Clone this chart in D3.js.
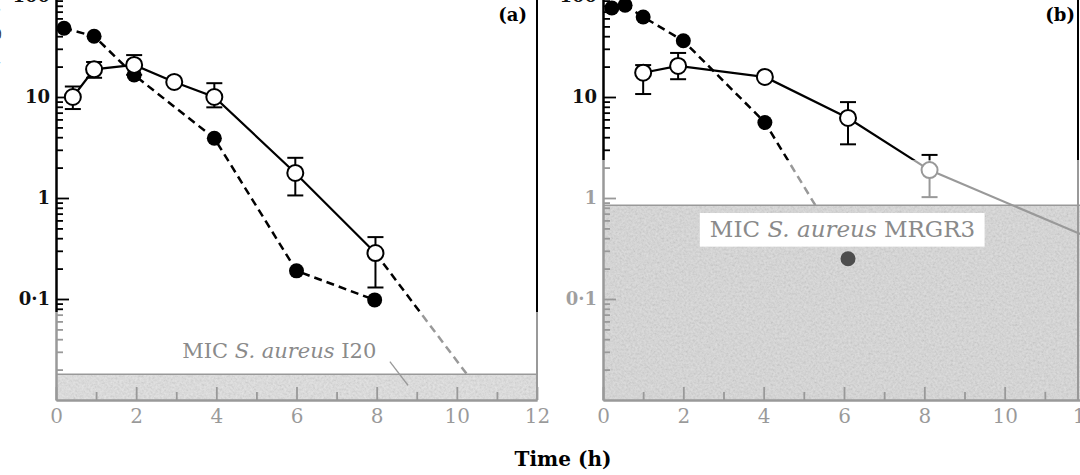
<!DOCTYPE html>
<meta charset="utf-8">
<style>
body { margin: 0; background: #fff; }
#fig { display: block; font-family: "DejaVu Serif", "Liberation Serif", serif; }
</style>
<svg id="fig" width="1080" height="475"></svg>
<script src="https://cdn.jsdelivr.net/npm/d3@7/dist/d3.min.js"></script>
<script>
// panel (a): S. aureus I20
var hoursFilledA = [0.2, 0.95, 1.95, 3.95, 6, 7.95];
var concFilledA  = [48, 40, 16.5, 3.9, 0.19, 0.098];
var hoursOpenA   = [0.42, 0.95, 1.95, 2.95, 3.95, 5.97, 7.97];
var concOpenA    = [10, 18.8, 20.8, 14.1, 10, 1.77, 0.285];
var loOpenA      = [7.6, 15.5, 16.6, null, 7.9, 1.06, 0.13];
var hiOpenA      = [12.7, 22.2, 26, null, 13.7, 2.5, 0.41];
var hoursExtA    = [7.97, 10.25];   // dashed extrapolation down to the MIC
var concExtA     = [0.285, 0.018];
var micA = 0.018;

// panel (b): S. aureus MRGR3
var hoursFilledB = [0.22, 0.55, 1, 2, 4.03, 6.1];
var concFilledB  = [76, 81, 62, 36, 5.6, 0.25];
var hoursOpenB   = [1, 1.87, 4.03, 6.1, 8.13];
var concOpenB    = [17.4, 20.3, 15.8, 6.2, 1.89];
var loOpenB      = [10.7, 15, null, 3.4, 1.02];
var hiOpenB      = [20.7, 27.3, null, 8.9, 2.67];
var hoursExtB    = [8.13, 12];      // solid extrapolation through the MIC
var concExtB     = [1.89, 0.42];
var micB = 0.85;

var hourTicks = [0, 2, 4, 6, 8, 10, 12];
var hourMinor = [1, 3, 5, 7, 9, 11];
var concTicks = [100, 10, 1, 0.1];
var concTickLabels = ["100", "10", "1", "0·1"];

var svg = d3.select("#fig");
var W = +svg.attr("width");

var y = d3.scaleLog().domain([0.01, 100]).range([400, -4]);
var xA = d3.scaleLinear().domain([0, 12]).range([56, 537]);
var xB = d3.scaleLinear().domain([0, 12]).range([603, 1085]);

// halftone grain for the shaded MIC areas
var grain = svg.append("defs").append("filter").attr("id", "grain")
    .attr("x", 0).attr("y", 0).attr("width", 1).attr("height", 1);
grain.append("feTurbulence").attr("type", "fractalNoise")
    .attr("baseFrequency", 0.45).attr("numOctaves", 3).attr("seed", 7);
grain.append("feColorMatrix").attr("type", "matrix")
    .attr("values", "1 0 0 0 0  1 0 0 0 0  1 0 0 0 0  0 0 0 0 0.45");

function pts(t, v, lo, hi) {
  return t.map(function(d, i) {
    return {t: d, v: v[i], lo: lo ? lo[i] : null, hi: hi ? hi[i] : null};
  });
}

function panel(p) {
  var x = p.x;
  var g = svg.append("g");
  var left = x(0), right = Math.min(x(12), W - 2);
  var band = y(p.mic);
  var filled = pts(p.tF, p.vF), open = pts(p.tO, p.vO, p.lo, p.hi), ext = pts(p.tE, p.vE);

  // MIC band
  g.append("rect").attr("x", left).attr("y", band)
      .attr("width", x(12) - left).attr("height", y(0.01) - band)
      .attr("fill", p.bandFill);
  g.append("rect").attr("x", left).attr("y", band)
      .attr("width", x(12) - left).attr("height", y(0.01) - band)
      .attr("filter", "url(#grain)");
  g.append("line").attr("x1", left).attr("x2", x(12))
      .attr("y1", band).attr("y2", band)
      .attr("stroke", "#000").attr("stroke-width", 1.5);

  // y axis, ticks pointing inwards
  var minor = y.ticks().filter(function(d) { return concTicks.indexOf(d) < 0 && d !== 0.01; });
  g.append("g").attr("transform", "translate(" + left + ",0)")
      .call(d3.axisLeft(y).tickValues(minor).tickSize(-7).tickSizeOuter(0).tickFormat(""));
  var ya = g.append("g").attr("transform", "translate(" + left + ",0)")
      .call(d3.axisLeft(y).tickValues(concTicks).tickSize(-13).tickSizeOuter(0).tickPadding(6)
        .tickFormat(function(d, i) { return concTickLabels[i]; }));
  ya.attr("font-family", null).attr("font-size", 18).attr("font-weight", "bold");
  ya.selectAll("text").attr("fill", "#111");

  // x axis
  g.append("g").attr("transform", "translate(0,400)")
      .call(d3.axisBottom(x).tickValues(hourMinor).tickSize(-8).tickSizeOuter(0).tickFormat(""));
  var xa = g.append("g").attr("transform", "translate(0,400)")
      .call(d3.axisBottom(x).tickValues(hourTicks).tickSize(-13).tickSizeOuter(0).tickPadding(9));
  xa.attr("font-family", null).attr("font-size", 20);
  xa.selectAll("text").attr("fill", "#000");
  g.selectAll(".domain").attr("stroke-width", 2);
  g.selectAll(".tick line").attr("stroke-width", 1.8);

  // right frame
  g.append("line").attr("x1", right).attr("x2", right)
      .attr("y1", y.range()[1]).attr("y2", 400)
      .attr("stroke", "#000").attr("stroke-width", 2);

  var line = d3.line().x(function(d) { return x(d.t); }).y(function(d) { return y(d.v); });

  // dashed curve (filled symbols) stops at the MIC
  g.append("clipPath").attr("id", "above" + p.tag)
    .append("rect").attr("x", 0).attr("y", -20).attr("width", W).attr("height", band + 20);
  g.append("path").datum(filled).attr("d", line)
      .attr("clip-path", "url(#above" + p.tag + ")")
      .attr("fill", "none").attr("stroke", "#000").attr("stroke-width", 2.5)
      .attr("stroke-dasharray", "8,5");
  g.append("path").datum(open).attr("d", line)
      .attr("fill", "none").attr("stroke", "#000").attr("stroke-width", 2.2);
  g.append("path").datum(ext).attr("d", line)
      .attr("fill", "none").attr("stroke", "#000").attr("stroke-width", p.extDash ? 2.5 : 2.2)
      .attr("stroke-dasharray", p.extDash);

  // error bars
  var eb = g.append("g").attr("stroke", "#000").attr("stroke-width", 2)
    .selectAll("g").data(open.filter(function(d) { return d.lo != null; }))
    .enter().append("g");
  eb.append("line").attr("x1", function(d) { return x(d.t); }).attr("x2", function(d) { return x(d.t); })
      .attr("y1", function(d) { return y(d.lo); }).attr("y2", function(d) { return y(d.hi); });
  eb.append("line").attr("x1", function(d) { return x(d.t) - 8; }).attr("x2", function(d) { return x(d.t) + 8; })
      .attr("y1", function(d) { return y(d.lo); }).attr("y2", function(d) { return y(d.lo); });
  eb.append("line").attr("x1", function(d) { return x(d.t) - 8; }).attr("x2", function(d) { return x(d.t) + 8; })
      .attr("y1", function(d) { return y(d.hi); }).attr("y2", function(d) { return y(d.hi); });

  g.selectAll(".filled").data(filled.filter(function(d) { return d.v >= p.mic; }))
    .enter().append("circle").attr("class", "filled")
      .attr("cx", function(d) { return x(d.t); }).attr("cy", function(d) { return y(d.v); })
      .attr("r", 7.5).attr("fill", "#000");
  g.selectAll(".open").data(open)
    .enter().append("circle").attr("class", "open")
      .attr("cx", function(d) { return x(d.t); }).attr("cy", function(d) { return y(d.v); })
      .attr("r", 8).attr("fill", "#fff").attr("stroke", "#000").attr("stroke-width", 2);

  if (p.leader) {
    g.append("line").attr("x1", x(p.leader[0])).attr("y1", y(p.leader[1]))
        .attr("x2", x(p.leader[2])).attr("y2", y(p.leader[3]))
        .attr("stroke", "#000").attr("stroke-width", 1.3);
  }

  // washed-out lower part of the scan
  g.append("rect").attr("x", p.fade[0]).attr("y", p.fade[2])
      .attr("width", p.fade[1] - p.fade[0]).attr("height", 432 - p.fade[2])
      .attr("fill", "#fff").attr("opacity", 0.6);

  // points lying inside the shaded band stay dark grey
  g.selectAll(".inband").data(filled.filter(function(d) { return d.v < p.mic; }))
    .enter().append("circle").attr("class", "inband")
      .attr("cx", function(d) { return x(d.t); }).attr("cy", function(d) { return y(d.v); })
      .attr("r", 7.5).attr("fill", "#4d4d4d");

  // MIC label
  if (p.box) {
    g.append("rect").attr("x", x(p.box[0])).attr("y", y(p.box[2]))
        .attr("width", x(p.box[1]) - x(p.box[0])).attr("height", y(p.box[3]) - y(p.box[2]))
        .attr("fill", "#fff");
  }
  var lab = g.append("text").attr("x", x(p.labelAt[0])).attr("y", y(p.labelAt[1]))
      .attr("font-size", p.labelSize).attr("fill", "#8a8a8a");
  lab.append("tspan").text("MIC ");
  lab.append("tspan").attr("font-style", "italic").text("S. aureus");
  lab.append("tspan").text(" " + p.strain);

  g.append("text").attr("x", x(11.75)).attr("y", 21)
      .attr("text-anchor", "end").attr("font-size", 18).attr("font-weight", "bold")
      .text("(" + p.tag + ")");
}

panel({tag: "a", x: xA, mic: micA, bandFill: "#8e8e8e",
  tF: hoursFilledA, vF: concFilledA, tO: hoursOpenA, vO: concOpenA, lo: loOpenA, hi: hiOpenA,
  tE: hoursExtA, vE: concExtA, extDash: "8,5",
  leader: [8.33, 0.024, 8.78, 0.014],
  fade: [0, 548, 312], labelAt: [3.15, 0.026], labelSize: 21, strain: "I20"});

panel({tag: "b", x: xB, mic: micB, bandFill: "#727272",
  tF: hoursFilledB, vF: concFilledB, tO: hoursOpenB, vO: concOpenB, lo: loOpenB, hi: hiOpenB,
  tE: hoursExtB, vE: concExtB, extDash: null,
  box: [2.41, 9.5, 0.71, 0.33],
  fade: [548, W, 160], labelAt: [2.66, 0.41], labelSize: 23, strain: "MRGR3"});

svg.append("text").attr("x", 563).attr("y", 466)
    .attr("text-anchor", "middle").attr("font-size", 20).attr("font-weight", "bold")
    .text("Time (h)");

// y title, almost entirely cut off at the left edge of the scan
svg.append("text").attr("transform", "translate(-3,120) rotate(-90)")
    .attr("text-anchor", "middle").attr("font-size", 20).attr("font-weight", "bold")
    .attr("fill", "#333")
    .text("Concentration (mg/l)");
</script>
